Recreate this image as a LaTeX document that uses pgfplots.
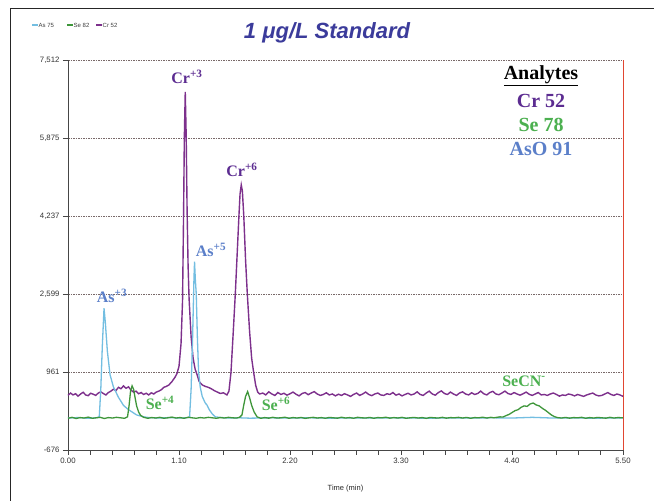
\documentclass[border=0pt]{standalone}
\usepackage{pgfplots}
\pgfplotsset{compat=1.18}
\usepackage{fontspec}
\setmainfont{Liberation Sans}
\newfontfamily\tnr{Liberation Serif}
\definecolor{crline}{RGB}{125,48,140}
\definecolor{seline}{RGB}{62,150,58}
\definecolor{asline}{RGB}{115,190,225}
\definecolor{crtxt}{RGB}{92,44,145}
\definecolor{setxt}{RGB}{76,176,80}
\definecolor{astxt}{RGB}{91,127,201}
\definecolor{ttl}{RGB}{59,59,155}
\definecolor{gridc}{RGB}{120,105,105}
\definecolor{axc}{RGB}{70,70,70}
\definecolor{redax}{RGB}{225,70,50}
\begin{document}
\begin{tikzpicture}[x=1pt,y=1pt]
\useasboundingbox (0,0) rectangle (654,501);
\fill[white] (0,0) rectangle (654,501);
\draw[line width=1pt,black!85] (10,0) -- (10,492) -- (654,492);
\begin{axis}[
  at={(68pt,51pt)}, anchor=south west,
  scale only axis, width=555pt, height=390pt,
  xmin=0, xmax=5.5, ymin=-676, ymax=7512,
  axis x line*=bottom, axis y line*=left,
  axis line style={-, color=axc, line width=0.8pt},
  xtick={0,1.1,2.2,3.3,4.4,5.5},
  xticklabels={0.00,1.10,2.20,3.30,4.40,5.50},
  minor x tick num=4,
  ytick={-676,961,2599,4237,5875,7512},
  yticklabels={-676,961,{2,599},{4,237},{5,875},{7,512}},
  tick align=outside, major tick length=5pt, minor tick length=5pt,
  tick style={color=axc, line width=0.7pt},
  ticklabel style={font=\fontsize{7.8}{9}\selectfont, text=black!80},
  ymajorgrids, grid style={gridc, dash pattern=on 1.5pt off 1pt, line width=0.7pt},
  xlabel={Time (min)}, xlabel style={font=\fontsize{7.5}{9}\selectfont, text=black!85, yshift=-14pt},
  clip=false,
]
\draw[redax, line width=0.8pt] (rel axis cs:1,0) -- (rel axis cs:1,1);
% Cr 52
\addplot[crline, line width=1.4pt] coordinates {
(0.00,470)(0.025,520)(0.05,480)(0.075,505)(0.10,455)(0.125,500)(0.15,535)(0.175,480)(0.20,465)(0.225,515)
(0.25,495)(0.275,470)(0.30,520)(0.325,545)(0.35,510)(0.375,480)(0.40,530)(0.425,560)(0.45,600)(0.475,570)
(0.50,640)(0.525,610)(0.55,670)(0.575,620)(0.60,650)(0.625,580)(0.65,540)(0.675,560)(0.70,505)(0.725,530)
(0.75,490)(0.775,515)(0.80,480)(0.825,525)(0.85,500)(0.875,540)(0.90,560)(0.925,590)(0.95,640)(0.975,660)
(1.00,690)(1.03,760)(1.06,850)(1.08,930)(1.10,1080)(1.12,1550)(1.135,2450)(1.145,4200)(1.153,5900)(1.162,6840)
(1.171,5950)(1.18,4400)(1.19,3200)(1.20,2500)(1.22,1700)(1.24,1250)(1.26,1020)(1.28,900)(1.30,760)(1.33,690)
(1.36,660)(1.39,640)(1.42,610)(1.45,570)(1.48,540)(1.51,510)(1.54,525)(1.575,480)(1.595,560)(1.615,950)
(1.635,1700)(1.658,2600)(1.68,3600)(1.694,4240)(1.705,4700)(1.717,4890)(1.728,4760)(1.742,4240)(1.76,3300)(1.777,2600)
(1.80,1800)(1.82,1250)(1.84,950)(1.86,680)(1.88,540)(1.90,500)
(1.93,520)(1.96,480)(1.99,545)(2.02,500)(2.05,470)(2.08,530)(2.11,490)(2.14,515)(2.17,475)(2.20,505)
(2.23,540)(2.26,495)(2.29,460)(2.32,510)(2.35,530)(2.38,485)(2.41,520)(2.44,550)(2.47,500)(2.50,470)
(2.53,490)(2.56,525)(2.59,480)(2.62,500)(2.65,460)(2.68,495)(2.71,470)(2.74,505)(2.77,480)(2.80,450)
(2.83,490)(2.86,520)(2.89,470)(2.92,500)(2.95,540)(2.98,490)(3.01,465)(3.04,500)(3.07,520)(3.10,480)
(3.13,470)(3.16,505)(3.19,490)(3.22,530)(3.25,475)(3.28,500)(3.31,460)(3.34,490)(3.37,515)(3.40,480)
(3.43,500)(3.46,545)(3.49,490)(3.52,470)(3.55,520)(3.58,560)(3.61,500)(3.64,475)(3.67,530)(3.70,565)
(3.73,510)(3.76,490)(3.79,540)(3.82,500)(3.85,470)(3.88,520)(3.91,545)(3.94,500)(3.97,480)(4.00,525)
(4.03,490)(4.06,510)(4.09,560)(4.12,505)(4.15,480)(4.18,530)(4.21,555)(4.24,500)(4.27,485)(4.30,520)
(4.33,560)(4.36,510)(4.39,490)(4.42,530)(4.45,500)(4.48,475)(4.51,505)(4.54,540)(4.57,495)(4.60,470)
(4.63,500)(4.66,530)(4.69,480)(4.72,490)(4.75,470)(4.78,500)(4.81,520)(4.84,490)(4.87,455)(4.90,480)
(4.93,470)(4.96,500)(4.99,485)(5.02,460)(5.05,490)(5.08,470)(5.11,450)(5.14,480)(5.17,500)(5.20,520)
(5.23,480)(5.26,460)(5.29,470)(5.32,500)(5.35,530)(5.38,490)(5.41,470)(5.44,500)(5.47,480)(5.50,450)
};
% As 75
\addplot[asline, line width=1.3pt] coordinates {
(0.00,-5)(0.10,5)(0.20,-10)(0.28,0)(0.31,20)(0.325,600)(0.34,1500)(0.357,2300)(0.37,2000)(0.39,1400)
(0.417,900)(0.45,650)(0.50,430)(0.55,260)(0.60,170)(0.68,60)(0.75,20)(0.80,5)(0.90,-5)(1.00,5)
(1.10,-5)(1.18,0)(1.205,20)(1.22,600)(1.235,1700)(1.248,2900)(1.254,3280)(1.262,2900)(1.271,2600)(1.282,1700)
(1.294,970)(1.31,650)(1.33,450)(1.36,310)(1.377,270)(1.40,170)(1.43,80)(1.46,20)(1.52,5)(1.60,-5)
(1.70,0)(1.80,-8)(1.90,-5)(2.00,0)(2.20,-5)(2.40,0)(2.60,-8)(2.80,-3)(3.00,-6)(3.20,0)(3.40,-5)
(3.60,-8)(3.80,-2)(4.00,-6)(4.20,0)(4.40,-5)(4.60,10)(4.80,-5)(5.00,-3)(5.20,-8)(5.40,-4)(5.50,-5)
};
% Se 82
\addplot[seline, line width=1.3pt] coordinates {
(0.00,-10)(0.04,10)(0.08,-15)(0.12,5)(0.16,-5)(0.20,15)(0.24,-10)(0.28,0)(0.32,10)(0.36,-15)
(0.40,5)(0.44,-5)(0.48,10)(0.52,0)(0.56,-10)(0.59,20)(0.605,250)(0.62,560)(0.635,670)(0.65,600)
(0.665,420)(0.68,250)(0.70,120)(0.72,50)(0.75,10)(0.79,-10)(0.83,5)(0.87,-5)(0.91,10)(0.95,-10)
(0.99,0)(1.03,15)(1.07,-5)(1.11,5)(1.15,-10)(1.19,10)(1.23,0)(1.27,-10)(1.31,5)(1.35,-5)
(1.39,10)(1.43,0)(1.47,-10)(1.51,5)(1.55,-5)(1.59,10)(1.63,0)(1.67,-5)(1.70,10)(1.724,60)
(1.74,250)(1.76,450)(1.78,550)(1.80,420)(1.82,260)(1.845,120)(1.874,20)(1.91,-10)
(1.95,5)(1.99,-8)(2.03,10)(2.07,-5)(2.11,0)(2.15,12)(2.19,-10)(2.23,5)(2.27,-5)(2.31,8)
(2.35,-12)(2.39,0)(2.43,10)(2.47,-5)(2.51,5)(2.55,-10)(2.59,8)(2.63,0)(2.67,-8)(2.71,12)
(2.75,-5)(2.79,5)(2.83,-10)(2.87,10)(2.91,0)(2.95,-5)(2.99,8)(3.03,-10)(3.07,5)(3.11,0)
(3.15,12)(3.19,-8)(3.23,5)(3.27,-5)(3.31,10)(3.35,-10)(3.39,0)(3.43,8)(3.47,-5)(3.51,5)
(3.55,-12)(3.59,8)(3.63,0)(3.67,-5)(3.71,10)(3.75,-8)(3.79,5)(3.83,0)(3.87,10)(3.91,-5)
(3.95,8)(3.99,-10)(4.03,5)(4.07,0)(4.11,12)(4.15,-5)(4.19,10)(4.22,0)
(4.25,10)(4.28,20)(4.31,15)(4.34,45)(4.37,70)(4.40,110)(4.43,150)(4.46,170)(4.49,220)(4.52,250)
(4.55,240)(4.58,290)(4.61,311)(4.64,270)(4.67,250)(4.70,200)(4.73,160)(4.76,110)(4.79,60)(4.82,25)
(4.85,5)(4.89,-5)(4.93,8)(4.97,-8)(5.01,5)(5.05,0)(5.09,10)(5.13,-10)(5.17,5)(5.21,-5)
(5.25,8)(5.29,0)(5.33,-8)(5.37,10)(5.41,-5)(5.45,5)(5.50,0)
};
\end{axis}
% title and legend
\node[font=\fontsize{22}{25}\selectfont\bfseries\itshape, text=ttl] at (327,468) {1 μg/L Standard};
\begin{scope}[font=\fontsize{6}{7}\selectfont]
\draw[asline, line width=1.2pt] (32,476) -- (38,476);
\node[anchor=west, inner sep=0.5pt, text=black!75] at (38,476) {As 75};
\draw[seline, line width=1.2pt] (67,476) -- (73,476);
\node[anchor=west, inner sep=0.5pt, text=black!75] at (73,476) {Se 82};
\draw[crline, line width=1.2pt] (96,476) -- (102,476);
\node[anchor=west, inner sep=0.5pt, text=black!75] at (102,476) {Cr 52};
\end{scope}
% analytes box
\begin{scope}[font=\fontsize{20}{22}\selectfont\tnr\bfseries]
\node at (541,425) {\underline{Analytes}};
\node[text=crtxt] at (541,400) {Cr 52};
\node[text=setxt] at (541,376) {Se 78};
\node[text=astxt] at (541,352) {AsO 91};
\end{scope}
% peak labels
\begin{scope}[font=\fontsize{16}{18}\selectfont\tnr\bfseries]
\node[text=crtxt] at (187,424) {Cr\textsuperscript{+3}};
\node[text=crtxt] at (242,331) {Cr\textsuperscript{+6}};
\node[text=astxt] at (211,251) {As\textsuperscript{+5}};
\node[text=astxt] at (112,205) {As\textsuperscript{+3}};
\node[text=setxt] at (160,98) {Se\textsuperscript{+4}};
\node[text=setxt] at (276,97) {Se\textsuperscript{+6}};
\node[text=setxt] at (524,120) {SeCN\textsuperscript{-}};
\end{scope}
\end{tikzpicture}
\end{document}
